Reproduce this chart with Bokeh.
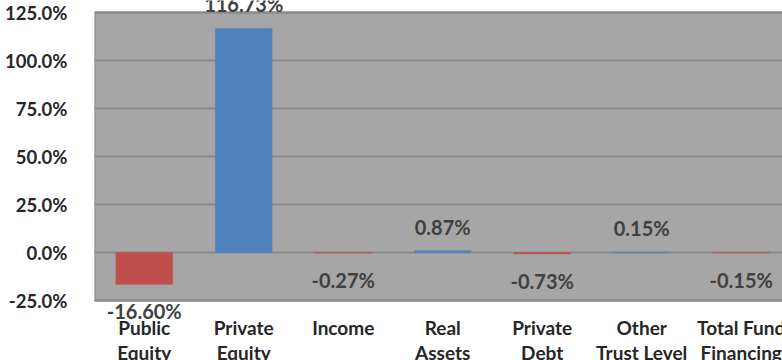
from bokeh.plotting import figure
from bokeh.models import ColumnDataSource, Range1d, FixedTicker, NumeralTickFormatter
from bokeh.core.properties import value
from bokeh.embed import file_html
from bokeh.resources import INLINE

categories = ["Public\nEquity", "Private\nEquity", "Income", "Real\nAssets",
              "Private\nDebt", "Other\nTrust Level", "Total Fund\nFinancing"]
values = [-16.60, 116.73, -0.27, 0.87, -0.73, 0.15, -0.15]  # percent
y_ticks = [-25, 0, 25, 50, 75, 100, 125]

POS = "#4F81BD"
NEG = "#C0504D"
FONT = "Lato"

W, H = 782, 360
LEFT, TOP, PLOT_BOTTOM = 94, 12, 300   # pixel layout of the grey plot area
ymin, ymax = y_ticks[0] / 100, y_ticks[-1] / 100
per_px = (ymax - ymin) / (PLOT_BOTTOM - TOP)
y_lo = ymin - (H - PLOT_BOTTOM) * per_px
y_hi = ymax + TOP * per_px

xs = [i + 0.5 for i in range(len(categories))]
fr = [v / 100 for v in values]
src = ColumnDataSource(dict(
    x=xs, top=fr,
    color=[POS if v >= 0 else NEG for v in values],
    lab=[f"{v:.2f}%" for v in values],
    yoff=[-24 if v >= 0 else 27 for v in values],
    cat=categories,
    ybase=[ymin] * len(categories),
))

p = figure(width=W, height=H, output_backend="svg", toolbar_location=None,
           x_range=Range1d(0, 6.915), y_range=Range1d(y_lo, y_hi),
           min_border_left=LEFT, min_border_right=0, min_border_top=0, min_border_bottom=0)

p.background_fill_color = "#FFFFFF"
p.border_fill_color = "#FFFFFF"
p.outline_line_color = None

# grey plot area
p.quad(left=0, right=7, bottom=ymin, top=ymax, fill_color="#A6A6A6",
       line_color="#8A8A8A", line_width=2, level="underlay")

p.xaxis.visible = False
p.xgrid.visible = False
p.ygrid.ticker = FixedTicker(ticks=[t / 100 for t in y_ticks])
p.ygrid.grid_line_color = "#8A8A8A"
p.ygrid.grid_line_width = 2
p.ygrid.level = "underlay"

p.vbar(x="x", top="top", bottom=0, width=0.57, fill_color="color",
       line_color="color", line_width=0.5, source=src)

ya = p.yaxis[0]
ya.ticker = FixedTicker(ticks=[t / 100 for t in y_ticks])
ya.formatter = NumeralTickFormatter(format="0.0%")
ya.axis_line_color = None
ya.major_tick_line_color = None
ya.minor_tick_line_color = None
ya.major_label_text_font = FONT
ya.major_label_text_font_style = "bold"
ya.major_label_text_font_size = "18.5px"
ya.major_label_text_color = "#262626"
ya.major_label_standoff = 21

p.text(x="x", y="top", text="lab", y_offset="yoff", source=src,
       text_align="center", text_baseline="middle",
       text_font=value(FONT), text_font_style="bold", text_font_size="20px",
       text_color="#404040")

p.text(x="x", y="ybase", text="cat", y_offset=15, source=src,
       text_align="center", text_baseline="top",
       text_font=value(FONT), text_font_style="bold", text_font_size="19px",
       text_color="#262626", text_line_height=1.1)

open("out.html", "w").write(file_html(p, INLINE))
